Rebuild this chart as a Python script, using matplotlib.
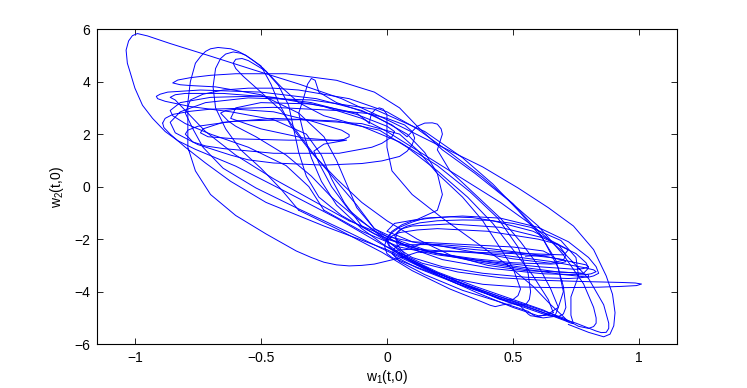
import numpy as np
import matplotlib.pyplot as plt

plt.rcParams['font.family'] = ['Liberation Sans', 'DejaVu Sans']
plt.rcParams['mathtext.default'] = 'regular'

# trajectory pieces (w1, w2) in order
seg_a = [(0.72, -5.25), (0.80, -5.55), (0.86, -5.72), (0.885, -5.62), (0.9, -5.3), (0.905, -4.8),
         (0.895, -4.1), (0.87, -3.4), (0.82, -2.4), (0.74, -1.5), (0.64, -0.8), (0.52, -0.05),
         (0.38, 0.75), (0.2, 1.6), (0.0, 2.55), (-0.18, 3.35), (-0.35, 3.91), (-0.52, 4.42),
         (-0.7, 4.97), (-0.86, 5.45), (-0.95, 5.74), (-0.99, 5.83), (-1.01, 5.75), (-1.025, 5.55),
         (-1.035, 5.2), (-1.03, 4.7), (-1.02, 4.39), (-1.0, 3.75), (-0.97, 3.1), (-0.93, 2.6),
         (-0.88, 2.1), (-0.83, 1.75), (-0.76, 1.42), (-0.6, 0.78), (-0.4, -0.2), (-0.2, -1.2),
         (-0.02, -2.2), (0.05, -2.52)]

seg_b = [(0.05, -2.52), (0.14, -2.92), (0.28, -3.25), (0.45, -3.47), (0.62, -3.57), (0.8, -3.62),
         (0.93, -3.65), (0.985, -3.67), (1.01, -3.71), (0.99, -3.77), (0.93, -3.8), (0.84, -3.83),
         (0.68, -3.85), (0.52, -3.82), (0.38, -3.72), (0.25, -3.48), (0.12, -3.0), (0.0, -2.45),
         (-0.15, -1.75), (-0.35, -0.85), (-0.52, -0.05), (-0.65, 0.7), (-0.73, 1.5), (-0.77, 2.2),
         (-0.8, 2.8), (-0.78, 3.3), (-0.73, 3.52), (-0.65, 3.68), (-0.55, 3.75), (-0.45, 3.75),
         (-0.35, 3.68), (-0.15, 3.35), (0.0, 2.85), (0.12, 2.2), (0.25, 1.3), (0.38, 0.35),
         (0.5, -0.65), (0.6, -1.7), (0.67, -2.8), (0.7, -3.8), (0.71, -4.6), (0.7, -4.85),
         (0.68, -4.95), (0.65, -4.93), (0.62, -4.85), (0.5, -4.45), (0.35, -3.9), (0.2, -3.3),
         (0.08, -2.75), (0.01, -2.25), (0.0, -1.95), (0.02, -1.7), (0.06, -1.45), (0.1, -1.3),
         (0.17, -1.2), (0.25, -1.15), (0.34, -1.18), (0.42, -1.3), (0.58, -1.7), (0.68, -2.2),
         (0.71, -2.6), (0.7, -2.8), (0.65, -2.92), (0.5, -2.75), (0.32, -2.45), (0.15, -2.15),
         (0.1, -2.3)]

seg_c = [(0.1, -2.3), (-0.05, -1.8), (-0.18, -1.1), (-0.27, -0.4), (-0.32, 0.4), (-0.35, 1.3),
         (-0.37, 2.2), (-0.39, 3.1), (-0.43, 3.85), (-0.49, 4.5), (-0.53, 4.8), (-0.56, 5.0),
         (-0.59, 5.15), (-0.62, 5.25), (-0.67, 5.3), (-0.7, 5.25), (-0.72, 5.15), (-0.74, 4.95),
         (-0.76, 4.7), (-0.78, 4.0), (-0.79, 3.2), (-0.79, 2.4), (-0.79, 1.5), (-0.76, 0.6),
         (-0.7, -0.3), (-0.6, -1.1), (-0.48, -1.8), (-0.36, -2.45), (-0.3, -2.7), (-0.25, -2.88),
         (-0.2, -2.98), (-0.15, -3.02), (-0.1, -3.0), (-0.05, -2.95), (0.05, -2.72), (0.12, -2.5),
         (0.25, -2.45), (0.45, -2.6), (0.65, -2.85), (0.78, -3.08), (0.82, -3.17), (0.83, -3.24),
         (0.81, -3.32), (0.78, -3.36), (0.62, -3.32), (0.42, -3.12), (0.22, -2.78), (0.08, -2.3),
         (0.04, -2.05), (0.03, -1.85), (0.05, -1.65), (0.08, -1.5), (0.13, -1.38), (0.2, -1.3),
         (0.3, -1.27), (0.4, -1.28), (0.5, -1.4), (0.57, -1.55), (0.69, -2.05), (0.75, -2.7),
         (0.76, -3.4), (0.73, -4.2), (0.73, -4.9), (0.74, -5.22), (0.73, -5.2), (0.71, -5.12),
         (0.6, -4.72), (0.45, -4.2), (0.3, -3.68), (0.15, -3.1), (0.0, -2.4), (-0.25, -1.5),
         (-0.48, -0.6), (-0.62, 0.2), (-0.72, 0.9), (-0.8, 1.5), (-0.86, 2.0), (-0.885, 2.25),
         (-0.89, 2.42)]

seg_d = [(-0.89, 2.42), (-0.88, 2.6), (-0.85, 2.75), (-0.78, 2.87), (-0.7, 2.95), (-0.45, 3.02),
         (-0.2, 2.9), (-0.07, 2.78), (0.0, 2.6), (0.07, 2.35), (0.1, 2.1), (0.11, 1.85), (0.1, 1.6),
         (0.08, 1.35), (0.05, 1.15), (-0.02, 0.98), (-0.1, 0.88), (-0.25, 0.82), (-0.45, 0.9),
         (-0.55, 1.02), (-0.62, 1.2), (-0.75, 1.6), (-0.84, 2.05), (-0.86, 2.45), (-0.82, 2.85),
         (-0.72, 3.2), (-0.55, 3.38), (-0.3, 3.3), (-0.05, 2.95), (0.15, 2.1), (0.3, 1.1),
         (0.42, 0.1), (0.52, -0.9), (0.62, -2.0), (0.68, -3.1), (0.7, -4.0), (0.68, -4.6),
         (0.64, -4.85), (0.6, -4.95), (0.57, -4.92), (0.56, -4.85), (0.54, -4.65), (0.53, -4.55),
         (0.5, -4.46), (0.46, -4.5), (0.43, -4.57), (0.41, -4.52), (0.38, -4.4), (0.25, -3.9),
         (0.1, -3.2), (-0.02, -2.5), (-0.2, -1.6), (-0.35, -0.9)]

seg_e = [(-0.35, -0.9), (-0.42, -0.1), (-0.5, 0.7), (-0.58, 1.4), (-0.64, 2.2), (-0.68, 3.0),
         (-0.69, 3.8), (-0.68, 4.5), (-0.66, 4.88), (-0.64, 5.05), (-0.61, 5.13), (-0.58, 5.08),
         (-0.56, 5.0), (-0.5, 4.6), (-0.46, 3.9), (-0.43, 3.2), (-0.38, 2.3), (-0.3, 1.3),
         (-0.2, 0.3), (-0.1, -0.6), (0.0, -1.3), (0.12, -2.0), (0.25, -2.6), (0.4, -3.0),
         (0.55, -3.2), (0.68, -3.25), (0.76, -3.29), (0.8, -3.36), (0.8, -3.43), (0.76, -3.48),
         (0.72, -3.5), (0.55, -3.45), (0.38, -3.3), (0.22, -3.05), (0.1, -2.7), (0.02, -2.2),
         (-0.1, -1.5)]

seg_f = [(-0.1, -1.5), (-0.17, -0.6), (-0.22, 0.3), (-0.26, 1.2), (-0.32, 2.0), (-0.45, 2.55),
         (-0.62, 2.85), (-0.78, 3.05), (-0.88, 3.25), (-0.91, 3.35), (-0.915, 3.44), (-0.9, 3.52),
         (-0.87, 3.6), (-0.74, 3.68), (-0.5, 3.6), (-0.28, 3.35), (-0.1, 2.9), (0.02, 2.35),
         (0.08, 1.9), (0.1, 2.1), (0.12, 2.3), (0.15, 2.42), (0.18, 2.43), (0.2, 2.38),
         (0.215, 2.2), (0.22, 2.0), (0.2, 1.4), (0.25, 0.6), (0.35, -0.3), (0.45, -1.2),
         (0.53, -2.1), (0.6, -3.0), (0.65, -3.9), (0.68, -4.6), (0.67, -4.85), (0.66, -4.95),
         (0.62, -5.0), (0.59, -4.95), (0.56, -4.75), (0.52, -4.62), (0.45, -4.4), (0.3, -3.95),
         (0.15, -3.35), (0.05, -2.85), (0.02, -2.55), (0.04, -2.42), (0.1, -2.38), (0.27, -2.48),
         (0.35, -2.5), (0.5, -2.55), (0.65, -2.7), (0.7, -2.78), (0.71, -2.86), (0.68, -2.93),
         (0.65, -2.95), (0.5, -2.9), (0.35, -2.75), (0.2, -2.55), (0.05, -2.2), (-0.05, -1.6)]

seg_g = [(-0.05, -1.6), (-0.12, -0.8), (-0.16, 0.1), (-0.2, 1.0), (-0.25, 1.9), (-0.35, 2.8),
         (-0.5, 3.5), (-0.68, 3.8), (-0.78, 3.85), (-0.82, 3.88), (-0.85, 3.95), (-0.83, 4.06),
         (-0.78, 4.15), (-0.7, 4.24), (-0.6, 4.3), (-0.4, 4.3), (-0.2, 4.05), (-0.05, 3.6),
         (0.05, 3.0), (0.12, 2.3), (0.22, 1.4), (0.35, 0.5), (0.48, -0.5), (0.6, -1.5),
         (0.7, -2.6), (0.78, -3.7), (0.82, -4.6), (0.83, -5.0), (0.83, -5.2), (0.82, -5.33),
         (0.8, -5.4), (0.76, -5.32), (0.7, -5.0), (0.58, -4.6), (0.42, -4.1), (0.25, -3.55),
         (0.1, -3.0), (0.02, -2.7), (0.0, -2.55), (-0.01, -2.25), (0.0, -2.0), (0.02, -1.75),
         (0.05, -1.55), (0.1, -1.35), (0.15, -1.2), (0.3, -1.12), (0.45, -1.2), (0.6, -1.55),
         (0.72, -2.1), (0.8, -2.7), (0.83, -3.05), (0.84, -3.3), (0.82, -3.4), (0.8, -3.45),
         (0.7, -3.35), (0.55, -3.15), (0.35, -2.85), (0.15, -2.45), (0.0, -2.0), (-0.12, -1.2)]

seg_h = [(-0.12, -1.2), (-0.22, -0.4), (-0.3, 0.4), (-0.4, 1.2), (-0.52, 1.9), (-0.6, 2.3),
         (-0.63, 2.5), (-0.66, 2.8), (-0.64, 2.9), (-0.6, 2.95), (-0.45, 2.85), (-0.3, 2.5),
         (-0.18, 2.15), (-0.15, 1.98), (-0.15, 1.9), (-0.17, 1.8), (-0.2, 1.75), (-0.33, 1.85),
         (-0.5, 2.2), (-0.62, 2.6), (-0.6, 3.0), (-0.5, 3.2), (-0.3, 3.15), (-0.12, 2.8),
         (-0.08, 2.5), (-0.07, 2.4), (-0.065, 2.65), (-0.06, 2.8), (-0.045, 2.95), (-0.03, 3.0),
         (-0.015, 2.95), (0.0, 2.75), (0.0, 2.1), (0.0, 1.5), (0.02, 0.6), (0.1, -0.3),
         (0.22, -1.2), (0.35, -2.1), (0.48, -3.0), (0.58, -3.8), (0.65, -4.5), (0.7, -4.95),
         (0.72, -5.15), (0.7, -5.05), (0.62, -4.7), (0.5, -4.3), (0.35, -3.8), (0.2, -3.25),
         (0.08, -2.7), (0.04, -2.2), (0.035, -1.95), (0.04, -1.77), (0.06, -1.6), (0.1, -1.5),
         (0.25, -1.42), (0.45, -1.55), (0.62, -1.95), (0.75, -2.55), (0.79, -2.9), (0.8, -3.1),
         (0.78, -3.3), (0.68, -3.25), (0.52, -3.05), (0.35, -2.8), (0.18, -2.5), (0.06, -2.1),
         (-0.05, -1.6)]

seg_i = [(-0.05, -1.6), (-0.12, -0.7), (-0.2, 0.2), (-0.28, 1.1), (-0.35, 2.0), (-0.42, 2.9),
         (-0.5, 3.6), (-0.57, 4.2), (-0.6, 4.5), (-0.61, 4.7), (-0.6, 4.85), (-0.575, 4.88),
         (-0.55, 4.8), (-0.48, 4.4), (-0.42, 3.8), (-0.35, 3.2), (-0.25, 2.7), (-0.1, 2.3),
         (0.05, 1.7), (0.2, 0.8), (0.33, -0.2), (0.44, -1.2), (0.52, -2.3), (0.56, -3.3),
         (0.57, -4.0), (0.565, -4.3), (0.55, -4.5), (0.52, -4.5), (0.48, -4.4), (0.4, -4.1),
         (0.28, -3.7), (0.15, -3.15), (0.05, -2.6), (0.01, -2.3), (0.0, -2.1), (0.02, -1.88),
         (0.05, -1.75), (0.12, -1.65), (0.2, -1.6), (0.4, -1.7), (0.6, -2.0), (0.68, -2.2),
         (0.72, -2.4), (0.71, -2.52), (0.7, -2.6), (0.55, -2.55), (0.35, -2.4), (0.15, -2.2),
         (0.0, -1.9), (-0.15, -1.3)]

seg_j = [(-0.15, -1.3), (-0.3, -0.5), (-0.45, 0.3), (-0.6, 1.2), (-0.72, 2.1), (-0.8, 2.9),
         (-0.84, 3.3), (-0.86, 3.4), (-0.84, 3.5), (-0.8, 3.55), (-0.65, 3.55), (-0.45, 3.4),
         (-0.25, 3.05), (-0.1, 2.6), (0.0, 2.1), (0.15, 1.2), (0.3, 0.3), (0.45, -0.6),
         (0.58, -1.5), (0.7, -2.5), (0.8, -3.5), (0.86, -4.5), (0.88, -5.2), (0.88, -5.4),
         (0.87, -5.55), (0.85, -5.56), (0.83, -5.5), (0.75, -5.2), (0.62, -4.8), (0.45, -4.25),
         (0.28, -3.7), (0.12, -3.1), (0.04, -2.7), (0.02, -2.55), (0.03, -2.35), (0.05, -2.22),
         (0.2, -2.2), (0.4, -2.35), (0.6, -2.6), (0.75, -2.9), (0.79, -2.98), (0.8, -3.05),
         (0.78, -3.12), (0.75, -3.15), (0.6, -3.05), (0.4, -2.85), (0.2, -2.6), (0.05, -2.3),
         (-0.1, -1.7), (-0.25, -0.9)]

seg_k = [(-0.25, -0.9), (-0.31, 0.0), (-0.4, 0.8), (-0.55, 1.5), (-0.7, 2.0), (-0.8, 2.4),
         (-0.85, 2.7), (-0.86, 2.9), (-0.82, 3.2), (-0.7, 3.4), (-0.5, 3.45), (-0.3, 3.2),
         (-0.12, 2.75), (0.0, 2.3), (0.03, 2.1), (0.02, 1.9), (-0.02, 1.65), (-0.06, 1.5),
         (-0.19, 1.27), (-0.45, 1.27), (-0.65, 1.45), (-0.72, 1.55), (-0.77, 1.7), (-0.8, 2.0),
         (-0.79, 2.15), (-0.75, 2.3), (-0.6, 2.5), (-0.35, 2.55), (-0.1, 2.4), (0.05, 2.0),
         (0.12, 1.4), (0.2, 0.5), (0.3, -0.4), (0.38, -1.3), (0.44, -2.2), (0.5, -3.1),
         (0.53, -3.9), (0.52, -4.15), (0.5, -4.3), (0.47, -4.33), (0.45, -4.3), (0.4, -4.1)]

seg_l = [(0.4, -4.1), (0.3, -3.7), (0.18, -3.2), (0.08, -2.7), (0.02, -2.2), (-0.05, -1.7),
         (-0.15, -0.9), (-0.22, 0.0), (-0.27, 0.9), (-0.29, 1.35), (-0.25, 1.62), (-0.16, 1.77),
         (-0.39, 1.77), (-0.6, 1.82), (-0.71, 1.9), (-0.74, 2.05), (-0.73, 2.2), (-0.65, 2.45),
         (-0.45, 2.6), (-0.2, 2.5), (-0.03, 2.15), (0.08, 1.5), (0.2, 0.6), (0.32, -0.4),
         (0.42, -1.4), (0.5, -2.4), (0.58, -3.4), (0.64, -4.3), (0.66, -4.8)]

seg_m = [(0.66, -4.8), (0.63, -4.9), (0.6, -4.92), (0.5, -4.6), (0.36, -4.05), (0.22, -3.45),
         (0.1, -2.85), (0.0, -2.3), (-0.1, -1.6), (-0.2, -0.7), (-0.26, 0.2), (-0.3, 1.1),
         (-0.33, 2.0), (-0.35, 2.8), (-0.33, 3.4), (-0.315, 3.9), (-0.3, 4.12), (-0.285, 4.05),
         (-0.27, 3.6), (-0.2, 3.2), (-0.05, 2.7), (0.08, 2.0), (0.15, 1.3), (0.2, 0.5),
         (0.22, -0.3), (0.2, -0.9), (0.12, -1.25), (0.03, -1.4), (0.0, -1.7), (0.1, -2.1),
         (0.3, -2.2), (0.5, -2.3), (0.62, -2.45), (0.65, -2.6), (0.55, -2.65)]

segments = [seg_a, seg_b, seg_c, seg_d, seg_e, seg_f, seg_g, seg_h, seg_i, seg_j, seg_k, seg_l, seg_m]

xticks = [-1, -0.5, 0, 0.5, 1]
yticks = [-6, -4, -2, 0, 2, 4, 6]

fig = plt.figure(figsize=(7.47, 3.88), dpi=100)
ax = fig.add_axes([0.130, 0.113, 0.776, 0.812])

for seg in segments:
    pts = np.array(seg)
    ax.plot(pts[:, 0], pts[:, 1], color='#0000ff', lw=0.7, solid_joinstyle='round')

ax.set_xlim(-1.15, 1.15)
ax.set_ylim(-6, 6)
ax.set_xticks(xticks)
ax.set_xticklabels(['\u22121', '\u22120.5', '0', '0.5', '1'])
ax.set_yticks(yticks)
ax.tick_params(direction='in', top=True, right=True, length=4, width=0.6, labelsize=10, pad=5)
for s in ax.spines.values():
    s.set_linewidth(0.8)

ax.set_xlabel('w$_1$(t,0)', fontsize=10, labelpad=2)
ax.set_ylabel('w$_2$(t,0)', fontsize=10, labelpad=6)

fig.savefig('out.png', dpi=100)
